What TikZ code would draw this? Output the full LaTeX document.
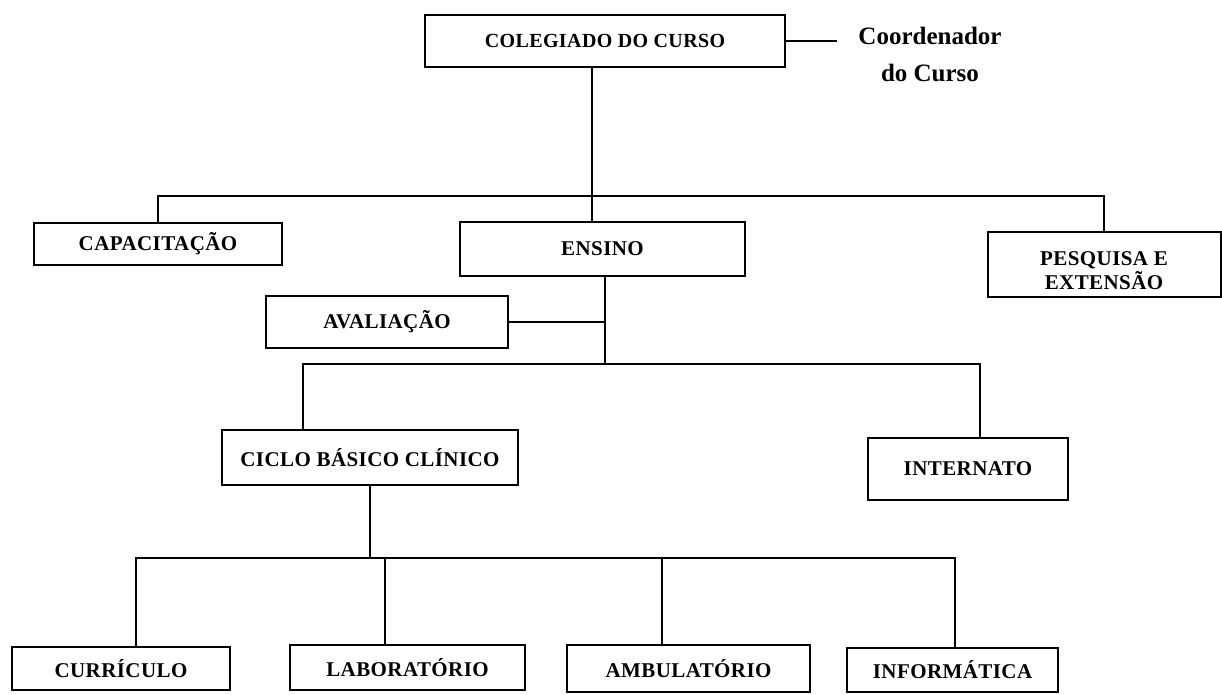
\documentclass[tikz,border=0pt]{standalone}
\usepackage{fontspec}
\setmainfont{Liberation Serif}
\newfontfamily\boxfont[LetterSpace=2]{Liberation Serif}
\begin{document}
\begin{tikzpicture}[x=1pt,y=-1pt,
  box/.style={draw=black, line width=2pt, inner sep=0pt, align=center,
    font=\boxfont\fontsize{21}{24}\selectfont\bfseries},
  wire/.style={draw=black, line width=2pt}]
\useasboundingbox (0,0) rectangle (1222,695);

% top level
\node[box, minimum width=360, minimum height=52,
  font=\boxfont\fontsize{20}{24}\selectfont\bfseries] (col) at (605,41) {COLEGIADO DO CURSO};
\node[align=center, font=\fontsize{25}{37}\selectfont\bfseries] (coord) at (930,54) {Coordenador\\do Curso};
\coordinate (coordend) at (837,41);
\draw[wire] (col.east) -- (coordend);

% second level
\node[box, minimum width=248, minimum height=42] (cap) at (158,244) {CAPACITAÇÃO};
\node[box, minimum width=285, minimum height=54] (ens) at (602.5,249) {ENSINO};
\node[box, minimum width=233, minimum height=65] (pes) at (1104,264.5)
  {\rule{0pt}{27pt}PESQUISA E\\EXTENSÃO};
\coordinate (bar1) at (592,196);
\draw[wire] (col.south -| bar1) -- (bar1);
\draw[wire] (cap.north) |- (bar1) -| (pes.north);
\draw[wire] (bar1) -- (ens.north -| bar1);

% teaching branch
\node[box, minimum width=242, minimum height=52] (ava) at (387,322) {AVALIAÇÃO};
\node[box, minimum width=296, minimum height=55] (cic) at (370,457.5) {CICLO BÁSICO CLÍNICO};
\node[box, minimum width=200, minimum height=62] (int) at (968,469) {INTERNATO};
\coordinate (bar2) at (605,364);
\draw[wire] (ens.south -| bar2) -- (bar2);
\draw[wire] (ava.east) -- (ava.east -| bar2);
\draw[wire] (cic.north -| 303,0) |- (bar2) -| (int.north -| 980,0);

% bottom level
\node[box, minimum width=218, minimum height=43] (cur) at (121,668.5) {CURRÍCULO};
\node[box, minimum width=235, minimum height=45] (lab) at (407.5,667.5) {LABORATÓRIO};
\node[box, minimum width=243, minimum height=47] (amb) at (688.5,668.5) {AMBULATÓRIO};
\node[box, minimum width=211, minimum height=44] (inf) at (952.5,670) {INFORMÁTICA};
\coordinate (bar3) at (370,558);
\draw[wire] (cic.south) -- (bar3);
\draw[wire] (cur.north -| 136,0) |- (bar3) -| (inf.north -| 955,0);
\draw[wire] (lab.north -| 385,0) -- (385,558);
\draw[wire] (amb.north -| 662,0) -- (662,558);
\end{tikzpicture}
\end{document}
